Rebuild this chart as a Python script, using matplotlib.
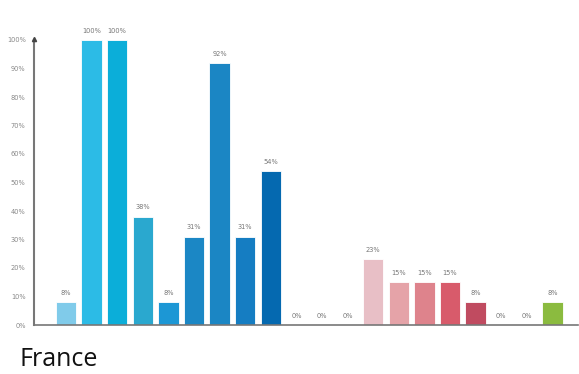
import matplotlib.pyplot as plt
import numpy as np

values = [8, 100, 100, 38, 8, 31, 92, 31, 54, 0, 0, 0, 23, 15, 15, 15, 8, 0, 0, 8]
colors = ['#80CBEA', '#2CBBE6', '#0BAED9', '#2AA8CF', '#1C97D5', '#1B87C5',
          '#1B86C4', '#157DC2', '#0569B0', '#FFFFFF', '#FFFFFF', '#FFFFFF',
          '#E8BFC6', '#E5A3A8', '#DE838C', '#D85B6B', '#C04B60', '#FFFFFF',
          '#FFFFFF', '#8BBB3F']
yticks = [0, 10, 20, 30, 40, 50, 60, 70, 80, 90, 100]

fig = plt.figure(figsize=(5.79, 3.74), dpi=100)
ax = fig.add_axes([34 / 579, 49 / 374, 544 / 579, 285 / 374])

x = np.arange(len(values))
ax.bar(x, values, width=0.8, color=colors, edgecolor='white', linewidth=0.6, zorder=2)

for xi, v in zip(x, values):
    ax.text(xi, v + 2.2, f'{v}%', ha='center', va='bottom', fontsize=4.8, color='#777777')

ax.set_xlim(-1.25, 20.0)
ax.set_ylim(0, 100)
ax.set_yticks(yticks)
ax.set_yticklabels([f'{t}%' for t in yticks], fontsize=4.8, color='#888888')
ax.tick_params(axis='y', length=0, pad=6)
ax.set_xticks([])

for s in ['top', 'right']:
    ax.spines[s].set_visible(False)
ax.spines['left'].set_color('#777777')
ax.spines['left'].set_linewidth(1.5)
ax.spines['bottom'].set_color('#777777')
ax.spines['bottom'].set_linewidth(1.2)
ax.spines['left'].set_bounds(0, 100)
ax.plot(-1.25, 100.5, marker='^', markersize=3, color='#444444', clip_on=False,
        transform=ax.transData, zorder=3)

fig.text(20 / 579, 1 - 359 / 374, 'France', fontsize=18, family='Open Sans',
         va='center', ha='left', color='#111111')

fig.savefig('out.png', dpi=100)
